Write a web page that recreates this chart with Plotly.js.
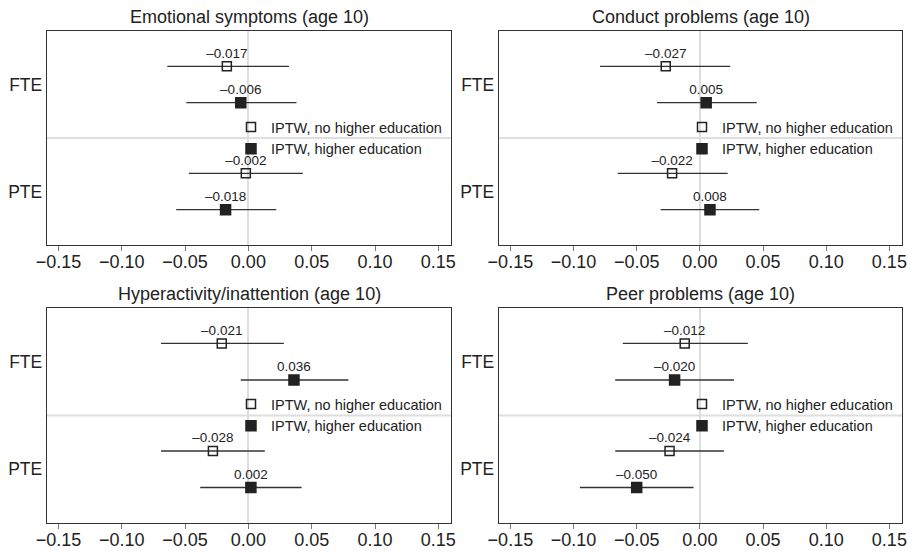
<!DOCTYPE html>
<html>
<head>
<meta charset="utf-8">
<script src="https://cdn.plot.ly/plotly-3.0.1.min.js"></script>
<style>html,body{margin:0;padding:0;background:#fff;}#chart{width:914px;height:552px;}</style>
</head>
<body>
<div id="chart"></div>
<script>
// ---- data ----
const panelTitles = ["Emotional symptoms (age 10)", "Conduct problems (age 10)", "Hyperactivity/inattention (age 10)", "Peer problems (age 10)"];
const effects = ["FTE", "PTE"];
const seriesNames = ["IPTW, no higher education", "IPTW, higher education"];

// estimates and 95% CI bounds, [FTE, PTE]
const emoNoHE = [-0.017, -0.002], emoNoHELo = [-0.064, -0.047], emoNoHEHi = [0.032, 0.043];
const emoHE = [-0.006, -0.018], emoHELo = [-0.049, -0.057], emoHEHi = [0.038, 0.022];
const conNoHE = [-0.027, -0.022], conNoHELo = [-0.079, -0.065], conNoHEHi = [0.024, 0.022];
const conHE = [0.005, 0.008], conHELo = [-0.034, -0.031], conHEHi = [0.045, 0.047];
const hypNoHE = [-0.021, -0.028], hypNoHELo = [-0.069, -0.069], hypNoHEHi = [0.028, 0.013];
const hypHE = [0.036, 0.002], hypHELo = [-0.006, -0.038], hypHEHi = [0.079, 0.042];
const peerNoHE = [-0.012, -0.024], peerNoHELo = [-0.061, -0.067], peerNoHEHi = [0.038, 0.019];
const peerHE = [-0.020, -0.050], peerHELo = [-0.067, -0.095], peerHEHi = [0.027, -0.005];

const panelData = [
  [[emoNoHE, emoNoHELo, emoNoHEHi], [emoHE, emoHELo, emoHEHi]],
  [[conNoHE, conNoHELo, conNoHEHi], [conHE, conHELo, conHEHi]],
  [[hypNoHE, hypNoHELo, hypNoHEHi], [hypHE, hypHELo, hypHEHi]],
  [[peerNoHE, peerNoHELo, peerNoHEHi], [peerHE, peerHELo, peerHEHi]]
];

// ---- layout / styling ----
const FONT = "Liberation Sans, Arial, Helvetica, sans-serif";
const INK = "#222";
const xDomains = [[47/914, 451/914], [499/914, 902/914], [47/914, 451/914], [499/914, 902/914]];
const yDomains = [[1-245/552, 1-31/552], [1-245/552, 1-31/552], [1-523/552, 1-308/552], [1-523/552, 1-308/552]];
const legendPos = [[252, 125], [703, 125], [252, 402], [703, 402]];
const offsets = [-0.17, 0.17];
const symbols = ["square-open", "square"];
const sizes = [9, 10];

const fmt = v => (v < 0 ? "\u2013" : "") + Math.abs(v).toFixed(3);

const traces = [];
const layout = {
  width: 914, height: 552,
  margin: {l: 0, r: 0, t: 0, b: 0},
  paper_bgcolor: "#fff", plot_bgcolor: "#fff",
  font: {family: FONT, color: INK, size: 18},
  showlegend: true,
  annotations: [], shapes: []
};

panelData.forEach((pd, p) => {
  const sfx = p === 0 ? "" : String(p + 1);
  const xa = "x" + sfx, ya = "y" + sfx;
  const legName = "legend" + sfx;
  pd.forEach((s, k) => {
    const est = s[0], lo = s[1], hi = s[2];
    const yv = effects.map((e, i) => i + 1 + offsets[k]);
    traces.push({
      type: "scatter", mode: "markers",
      x: est, y: yv, xaxis: xa, yaxis: ya,
      name: seriesNames[k], legend: legName, showlegend: true,
      marker: {symbol: symbols[k], size: sizes[k], color: INK, line: {color: INK, width: 1.5}},
      error_x: {type: "data", symmetric: false,
        array: est.map((v, i) => hi[i] - v), arrayminus: est.map((v, i) => v - lo[i]),
        width: 0, thickness: 1.3, color: "#333"},
      hoverinfo: "x+y"
    });
    traces.push({
      type: "scatter", mode: "markers+text",
      x: est, y: yv, xaxis: xa, yaxis: ya,
      marker: {size: 7, opacity: 0, color: "#fff"},
      text: est.map(fmt), textposition: "top center",
      textfont: {family: FONT, size: 13.5, color: INK},
      showlegend: false, hoverinfo: "skip", cliponaxis: false
    });
  });
  layout["xaxis" + sfx] = {
    domain: xDomains[p], anchor: ya, range: [-0.159, 0.16],
    tick0: 0, dtick: 0.05, tickformat: ".2f",
    ticks: "outside", ticklen: 5, tickcolor: "#777", tickwidth: 1,
    ticklabelstandoff: -5,
    showgrid: false, zeroline: true, zerolinecolor: "#dedede", zerolinewidth: 2,
    showline: true, mirror: true, linecolor: "#333", linewidth: 1.3,
    tickfont: {size: 18, color: INK, family: FONT}, fixedrange: true
  };
  layout["yaxis" + sfx] = {
    domain: yDomains[p], anchor: xa, range: [2.5, 0.5],
    tickvals: [1, 2], ticktext: effects, ticks: "",
    showgrid: false, zeroline: false,
    showline: true, mirror: true, linecolor: "#333", linewidth: 1.3,
    tickfont: {size: 17.5, color: INK, family: FONT}, fixedrange: true
  };
  layout.shapes.push({type: "line", xref: xa + " domain", yref: ya, x0: 0, x1: 1, y0: 1.5, y1: 1.5,
    line: {color: "#dedede", width: 2}, layer: "below"});
  layout.annotations.push({text: panelTitles[p], xref: xa + " domain", yref: ya + " domain",
    x: 0.5, y: 1, xanchor: "center", yanchor: "bottom", yshift: 2, showarrow: false,
    font: {family: FONT, size: 18, color: INK}});
  layout[legName] = {
    x: (legendPos[p][0] - 21) / 914, y: 1 - (legendPos[p][1] - 14) / 552,
    xanchor: "left", yanchor: "top", xref: "paper", yref: "paper",
    bgcolor: "rgba(0,0,0,0)", borderwidth: 0,
    font: {family: FONT, size: 14.5, color: INK}, traceorder: "normal"
  };
});

Plotly.newPlot("chart", traces, layout, {staticPlot: true, displayModeBar: false});
</script>
</body>
</html>
